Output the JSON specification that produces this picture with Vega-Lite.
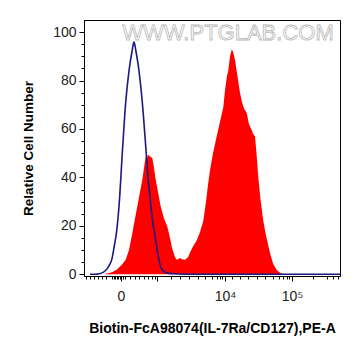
{
  "$schema": "https://vega.github.io/schema/vega-lite/v6.json",
  "width": 256,
  "height": 256,
  "autosize": "none",
  "padding": {"left": 84, "top": 20, "right": 21, "bottom": 80},
  "background": "white",
  "config": {"view": {"stroke": "black", "strokeWidth": 1}, "font": "Liberation Sans"},
  "datasets": {
    "red": [
      {"x": 0, "y": 0}, {"x": 20, "y": 0}, {"x": 23, "y": 0.3}, {"x": 28, "y": 0.8}, {"x": 33, "y": 2},
      {"x": 38, "y": 4}, {"x": 41.7, "y": 6}, {"x": 45, "y": 10}, {"x": 48.3, "y": 17}, {"x": 51, "y": 23},
      {"x": 53.3, "y": 28}, {"x": 56, "y": 34}, {"x": 58.3, "y": 39}, {"x": 60, "y": 44}, {"x": 61.7, "y": 48.6},
      {"x": 63, "y": 48}, {"x": 64, "y": 49.5}, {"x": 65, "y": 49}, {"x": 66.5, "y": 48.5}, {"x": 68.3, "y": 48},
      {"x": 70, "y": 44}, {"x": 71.7, "y": 39}, {"x": 74, "y": 34}, {"x": 76.7, "y": 28}, {"x": 80, "y": 23},
      {"x": 83.3, "y": 19.7}, {"x": 86, "y": 15}, {"x": 88, "y": 11}, {"x": 91, "y": 7}, {"x": 93, "y": 6},
      {"x": 96, "y": 6.7}, {"x": 98, "y": 6.2}, {"x": 101, "y": 6}, {"x": 104, "y": 7}, {"x": 106, "y": 9},
      {"x": 109, "y": 11.5}, {"x": 112.7, "y": 14}, {"x": 116, "y": 17.5}, {"x": 119.3, "y": 22}, {"x": 122, "y": 30},
      {"x": 124, "y": 37}, {"x": 126, "y": 43}, {"x": 129, "y": 50}, {"x": 132.7, "y": 57}, {"x": 136, "y": 63},
      {"x": 139.3, "y": 69}, {"x": 141, "y": 76}, {"x": 143, "y": 82}, {"x": 144.3, "y": 84}, {"x": 146, "y": 90},
      {"x": 147.7, "y": 92.7}, {"x": 149, "y": 92}, {"x": 151, "y": 88.5}, {"x": 153, "y": 83}, {"x": 156, "y": 75},
      {"x": 158, "y": 71}, {"x": 160, "y": 68.5}, {"x": 162.7, "y": 66.6}, {"x": 165, "y": 62}, {"x": 167.7, "y": 59.6},
      {"x": 169, "y": 58}, {"x": 171, "y": 57}, {"x": 172.5, "y": 50}, {"x": 174.3, "y": 40}, {"x": 176.5, "y": 31},
      {"x": 179.3, "y": 22}, {"x": 182, "y": 16}, {"x": 186, "y": 8.8}, {"x": 189, "y": 4.5}, {"x": 192.7, "y": 1.8},
      {"x": 196, "y": 0.6}, {"x": 199.3, "y": 0}, {"x": 256, "y": 0}
    ],
    "blue": [
      {"x": 6, "y": 0}, {"x": 12, "y": 0}, {"x": 15, "y": 0.2}, {"x": 19, "y": 0.8}, {"x": 22, "y": 1.8},
      {"x": 25, "y": 3.5}, {"x": 28, "y": 6.5}, {"x": 30, "y": 11}, {"x": 33, "y": 19}, {"x": 35, "y": 28},
      {"x": 38.3, "y": 50}, {"x": 41.7, "y": 71}, {"x": 45, "y": 84}, {"x": 48, "y": 92}, {"x": 50, "y": 96},
      {"x": 52, "y": 92}, {"x": 55, "y": 84}, {"x": 58.3, "y": 71}, {"x": 61.7, "y": 53}, {"x": 64, "y": 40},
      {"x": 66.7, "y": 29}, {"x": 69, "y": 21}, {"x": 71.7, "y": 14}, {"x": 74, "y": 8}, {"x": 76.7, "y": 3},
      {"x": 80, "y": 1.2}, {"x": 83, "y": 0.5}, {"x": 90, "y": 0.2}, {"x": 100, "y": 0}, {"x": 256, "y": 0}
    ]
  },
  "resolve": {"axis": {"x": "independent", "y": "independent"}},
  "layer": [
    {
      "data": {"name": "red"},
      "mark": {"type": "area", "color": "#ff0000", "interpolate": "linear"},
      "encoding": {
        "x": {
          "field": "x", "type": "quantitative",
          "scale": {"domain": [0, 256], "nice": false, "zero": false},
          "axis": {
            "orient": "bottom",
            "values": [37, 73, 141, 208],
            "labelExpr": "datum.value == 37 ? '0' : datum.value == 141 ? '10⁴' : datum.value == 208 ? '10⁵' : ''",
            "tickSize": 5,
            "title": "Biotin-FcA98074(IL-7Ra/CD127),PE-A",
            "grid": false,
            "domainColor": "black",
            "tickColor": "black",
            "labelColor": "#222222",
            "labelFontSize": 14,
            "labelPadding": 8,
            "labelOverlap": false,
            "labelFlush": false,
            "titleFontWeight": "bold",
            "titleFontSize": 14,
            "titleColor": "black",
            "titleX": 128,
            "titleY": 52,
            "titleBaseline": "middle"
          }
        },
        "y": {
          "field": "y", "type": "quantitative",
          "scale": {"domain": [-0.7, 105], "nice": false, "zero": false},
          "axis": {
            "orient": "left",
            "values": [0, 20, 40, 60, 80, 100],
            "tickSize": 5,
            "title": "Relative Cell Number",
            "grid": false,
            "domainColor": "black",
            "tickColor": "black",
            "labelColor": "#222222",
            "labelFontSize": 14,
            "labelPadding": 3,
            "labelOverlap": false,
            "labelFlush": false,
            "titleFontWeight": "bold",
            "titleFontSize": 13.5,
            "titleColor": "black",
            "titleX": -56,
            "titleY": 128,
            "titleBaseline": "middle"
          }
        }
      }
    },
    {
      "data": {"name": "blue"},
      "mark": {"type": "line", "color": "#1a1a80", "strokeWidth": 1.6, "interpolate": "monotone"},
      "encoding": {
        "x": {
          "field": "x", "type": "quantitative",
          "axis": {
            "orient": "bottom",
            "values": [2,6,10,14,18,22,28,29.5,31,32.5,34,35.5,38.5,41,46,51,55,60,64,68,71,87,96,105,114,121,128,133,136,138,148,156,164,173,181,189,195,199,203,205,229,243,249,254],
            "labels": false,
            "tickSize": 3,
            "tickColor": "black",
            "domain": false,
            "grid": false,
            "title": null
          }
        },
        "y": {
          "field": "y", "type": "quantitative",
          "axis": {
            "orient": "left",
            "values": [5,10,15,25,30,35,45,50,55,65,70,75,85,90,95],
            "labels": false,
            "tickSize": 3,
            "tickColor": "black",
            "domain": false,
            "grid": false,
            "title": null
          }
        }
      }
    },
    {
      "data": {"values": [{"label": "WWW.PTGLAB.COM"}]},
      "mark": {"type": "text", "fontSize": 22, "fill": "white", "stroke": "#b8b8b8", "strokeWidth": 0.8, "align": "center", "baseline": "middle"},
      "encoding": {
        "x": {"datum": 144, "axis": null},
        "y": {"datum": 99.7, "axis": null},
        "text": {"field": "label"}
      }
    }
  ]
}
